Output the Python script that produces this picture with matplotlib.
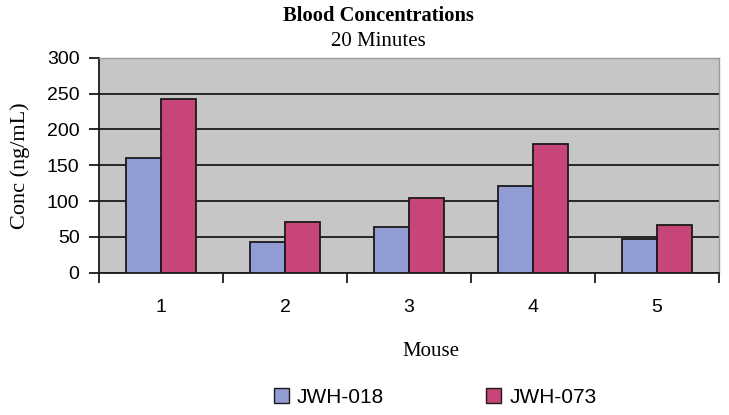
import matplotlib
matplotlib.use("Agg")
import matplotlib.pyplot as plt
import numpy as np
from matplotlib.patches import Patch

categories = ["1", "2", "3", "4", "5"]
jwh018 = [160, 42, 64, 121, 47]
jwh073 = [243, 70, 104, 180, 67]
yticks = [0, 50, 100, 150, 200, 250, 300]

blue = "#919CD4"
red = "#C8457A"
serif = "Liberation Serif"
sans = "Liberation Sans"

fig = plt.figure(figsize=(7.29, 4.15), dpi=100)
ax = fig.add_axes([99/729, 1-272.5/415, 620/729, 214.5/415])
ax.set_facecolor("#C6C6C6")

x = np.arange(len(categories))
w = 0.283
ax.bar(x - w/2, jwh018, w, color=blue, edgecolor="#1a1a1a", linewidth=1.3, zorder=3)
ax.bar(x + w/2, jwh073, w, color=red, edgecolor="#1a1a1a", linewidth=1.3, zorder=3)

ax.set_xlim(-0.5, len(categories) - 0.5)
ax.set_ylim(0, 300)
ax.set_yticks(yticks)
ax.set_yticklabels([str(v) for v in yticks], fontname=sans, fontsize=14)
ax.yaxis.grid(True, color="#1a1a1a", linewidth=1.3, zorder=1)
ax.set_axisbelow(True)

ax.set_xticks(x)
ax.set_xticklabels(categories, fontname=sans, fontsize=14)
ax.tick_params(axis="x", which="major", length=0, pad=19)
ax.set_xticks(np.arange(-0.5, len(categories)), minor=True)
ax.tick_params(axis="x", which="minor", length=7, width=1.3, color="#1a1a1a", direction="out")
ax.tick_params(axis="y", length=7, width=1.3, color="#1a1a1a", direction="out", pad=7)

for s in ["top", "right"]:
    ax.spines[s].set_color("#9a9a9a")
    ax.spines[s].set_linewidth(1.0)
for s in ["left", "bottom"]:
    ax.spines[s].set_color("#1a1a1a")
    ax.spines[s].set_linewidth(1.3)

ax.set_ylabel("Conc (ng/mL)", fontname=serif, fontsize=16)
ax.yaxis.set_label_coords((20-99)/620, 0.5)
ax.set_xlabel("Mouse", fontname=serif, fontsize=15)
ax.xaxis.set_label_coords((431-99)/620, (272.5-351)/214.5)
ax.xaxis.label.set_va("center")
ax.yaxis.label.set_va("center")

fig.text(378.5/729, 1-16/415, "Blood Concentrations", ha="center", va="center",
         fontname=serif, fontsize=14.8, fontweight="bold")
fig.text(378.5/729, 1-41/415, "20 Minutes", ha="center", va="center",
         fontname=serif, fontsize=15)

handles = [Patch(facecolor=blue, edgecolor="#1a1a1a", linewidth=1.0),
           Patch(facecolor=red, edgecolor="#1a1a1a", linewidth=1.0)]
fig.legend(handles, ["JWH-018", "JWH-073"], loc="center", bbox_to_anchor=(0.597, 1-397/415),
           ncol=2, frameon=False, prop={"family": sans, "size": 15},
           handlelength=0.7, handleheight=0.7, handletextpad=0.4, columnspacing=4.9)

fig.savefig("out.png", dpi=100)
